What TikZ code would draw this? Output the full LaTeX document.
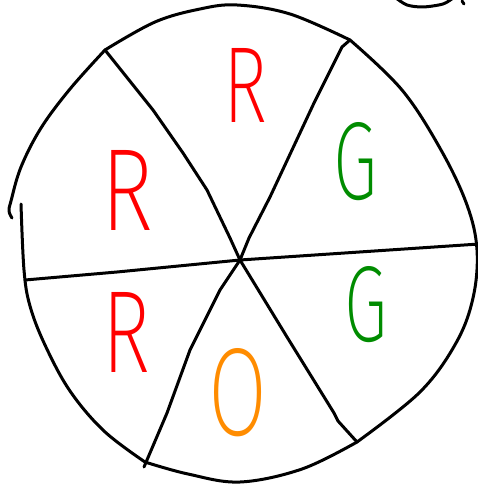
\documentclass[tikz,border=0pt]{standalone}
\usepackage{fontspec}
\usepackage{graphicx}
\IfFontExistsTF{Fira Sans ExtraLight}
  {\newfontfamily\handfont{Fira Sans ExtraLight}}
  {\IfFontExistsTF{Fira Sans Light}
     {\newfontfamily\handfont{Fira Sans Light}}
     {\newfontfamily\handfont{Fira Sans}}}
\definecolor{inkred}{RGB}{255,0,0}
\definecolor{inkgreen}{RGB}{0,140,0}
\definecolor{inkorange}{RGB}{255,140,0}
\tikzset{
  ink/.style={line width=3pt, line cap=round, line join=round, black},
  rim/.style={ink, smooth, tension=0.6},
  letter/.style={inner sep=0pt, outer sep=0pt}
}
\newcommand\hw[3]{\resizebox{#1}{#2}{\handfont #3}}
\begin{document}
\begin{tikzpicture}[x=1pt,y=-1pt]
\useasboundingbox (0,0) rectangle (477,486);
\fill[white] (0,0) rectangle (477,486);
% centre and rim junctions
\coordinate (c) at (240,260);
\coordinate (ta) at (105,50);
\coordinate (tc) at (350,40);
\coordinate (br) at (357,442);
\coordinate (bl) at (145,462);
\coordinate (le) at (25,280);
\coordinate (re) at (479,244);
% outer rim, drawn by hand with a small gap on the left
\draw[rim] plot coordinates {(12,218) (9,211) (11,201) (21,167) (41,128) (70,89) (105,50)};
\draw[rim] plot coordinates {(105,50) (155,22) (200,9) (237,5) (290,14) (350,40)};
\draw[rim] plot coordinates {(350,40) (402,90) (441,150) (467,205) (477,250)
  (473,298) (456,343) (420,392) (357,442)};
\draw[rim] plot coordinates {(357,442) (302,469) (240,482) (188,474) (145,462)};
\draw[rim] plot coordinates {(145,462) (104,431) (70,391) (45,345) (30,306) (24,270) (21,204)};
% spokes
\draw[ink] (ta) -- (153,110) -- (183,153) -- (207,190) -- (230,238) -- (c);
\draw[ink] (tc) -- (342,47) -- (314,103) -- (270,197) -- (249,238) -- (c);
\draw[ink] (c) -- (287,337) -- (334,413) -- (338,421) -- (br);
\draw[ink] (c) -- (220,290) -- (190,350) -- (167,413) -- (144,467);
\draw[ink] (le) -- (117,272) -- (c) -- (re);
% cut-off mark at the top right
\draw[ink] plot[smooth] coordinates {(396,-2) (407,5) (423,7) (443,4) (453,-2)};
\draw[ink] (462,1) -- (464,4);
% sector letters
\node[letter, text=inkred]    (r1) at (245,85)  {\hw{44pt}{74pt}{R}};
\node[letter, text=inkred]    (r2) at (127,190) {\hw{52pt}{80pt}{R}};
\node[letter, text=inkred]    (r3) at (126,332) {\hw{48pt}{80pt}{R}};
\node[letter, text=inkgreen]  (g1) at (356,162) {\hw{44pt}{77pt}{G}};
\node[letter, text=inkgreen]  (g2) at (366,305) {\hw{43pt}{75pt}{G}};
\node[letter, text=inkorange] (o1) at (238,393) {\hw{59pt}{87pt}{O}};
\end{tikzpicture}
\end{document}
